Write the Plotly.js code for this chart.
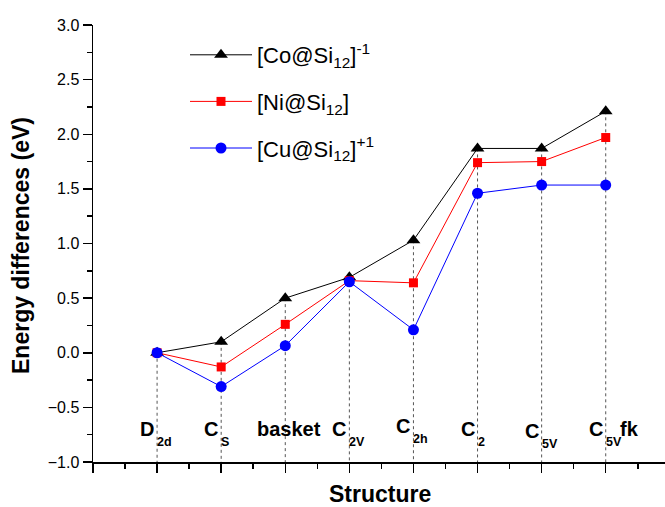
<!DOCTYPE html>
<html>
<head>
<meta charset="utf-8">
<script src="https://cdn.plot.ly/plotly-3.0.1.min.js"></script>
<style>html,body{margin:0;padding:0;background:#fff;}#chart{width:665px;height:507px;}</style>
</head>
<body>
<div id="chart"></div>
<script>
// ---- data ----
var categories = [1, 2, 3, 4, 5, 6, 7, 8];
var labelMain = ["D", "C", "basket", "C", "C", "C", "C", "C"];
var labelSub = ["2d", "S", "", "2V", "2h", "2", "5V", "5V"];
var labelSuffix = ["", "", "", "", "", "", "", "fk"];
var coValues = [0, 0.10, 0.50, 0.69, 1.03, 1.87, 1.87, 2.21];
var niValues = [0, -0.13, 0.26, 0.66, 0.64, 1.74, 1.75, 1.97];
var cuValues = [0, -0.31, 0.065, 0.65, 0.21, 1.46, 1.535, 1.535];
var seriesNames = ["[Co@Si<sub>12</sub>]<sup>-1</sup>", "[Ni@Si<sub>12</sub>]", "[Cu@Si<sub>12</sub>]<sup>+1</sup>"];

var FONT = "Arial, 'Liberation Sans', sans-serif";
var yMin = -1, yMax = 3;

// drop lines from the highest point of each category down to the axis
var dx = [], dy = [];
categories.forEach(function (c, i) {
  var top = Math.max(coValues[i], niValues[i], cuValues[i]);
  dx.push(c, c, null);
  dy.push(top, yMin, null);
});

var traces = [
  {x: dx, y: dy, mode: 'lines', line: {color: '#555', width: 1, dash: 'dot'}, showlegend: false, hoverinfo: 'skip'},
  {x: categories, y: coValues, name: seriesNames[0], mode: 'lines+markers', legendgroup: 'a',
   line: {color: '#000000', width: 1}, marker: {symbol: 'triangle-up', size: 12, color: '#000000'}},
  {x: categories, y: niValues, name: seriesNames[1], mode: 'lines+markers', legendgroup: 'b',
   line: {color: '#ff0000', width: 1}, marker: {symbol: 'square', size: 9, color: '#ff0000'}},
  {x: categories, y: cuValues, name: seriesNames[2], mode: 'lines+markers', legendgroup: 'c',
   line: {color: '#0000ff', width: 1}, marker: {symbol: 'circle', size: 11, color: '#0000ff'}}
];

// category labels drawn inside the plot: main text left of the drop line, subscript right of it
var yShifts = [0, 0, 0, 0, 3, 0, -2, 0];
var mainY = -0.70, subY = -0.815;
var annotations = [];
categories.forEach(function (c, i) {
  var hasSub = labelSub[i] !== "";
  annotations.push({x: c, y: mainY, xref: 'x', yref: 'y', text: labelMain[i], showarrow: false,
    xanchor: hasSub ? 'right' : 'center', yanchor: 'middle', xshift: hasSub ? -1 : 4, yshift: yShifts[i],
    font: {family: FONT, size: 20, color: '#000', weight: 'bold'}});
  if (hasSub) {
    annotations.push({x: c, y: subY, xref: 'x', yref: 'y', text: labelSub[i], showarrow: false,
      xanchor: 'left', yanchor: 'middle', xshift: -2, yshift: yShifts[i],
      font: {family: FONT, size: 12.5, color: '#000', weight: 'bold'}});
  }
  if (labelSuffix[i] !== "") {
    annotations.push({x: c, y: mainY, xref: 'x', yref: 'y', text: labelSuffix[i], showarrow: false,
      xanchor: 'left', yanchor: 'middle', xshift: 12, yshift: yShifts[i],
      font: {family: FONT, size: 20, color: '#000', weight: 'bold'}});
  }
});
annotations.push({xref: 'paper', yref: 'paper', x: (380 - 93) / 572, y: (462 - 494) / 437,
  text: '<b>Structure</b>', showarrow: false, xanchor: 'center', yanchor: 'middle',
  font: {family: FONT, size: 23, color: '#000'}});
annotations.push({xref: 'paper', yref: 'paper', x: (21 - 93) / 572, y: (462 - 246) / 437,
  text: '<b>Energy differences (eV)</b>', showarrow: false, textangle: -90, xanchor: 'center', yanchor: 'middle',
  font: {family: FONT, size: 23, color: '#000'}});

var layout = {
  width: 665, height: 507,
  margin: {l: 93, r: 0, t: 25, b: 45},
  paper_bgcolor: '#fff', plot_bgcolor: '#fff',
  font: {family: FONT, color: '#000'},
  showlegend: true,
  legend: {x: (185 - 93) / 572, y: (462 - 34) / 437, xanchor: 'left', yanchor: 'top', itemwidth: 62,
           font: {family: FONT, size: 22, color: '#000'}, bgcolor: 'rgba(0,0,0,0)', tracegroupgap: 15},
  xaxis: {range: [0, 8.925], showgrid: false, zeroline: false, showline: true, linecolor: '#000', linewidth: 1.5,
          ticks: 'outside', ticklen: 9, tickwidth: 1.5, tickcolor: '#000', dtick: 1, tick0: 0, showticklabels: false,
          minor: {dtick: 0.5, tick0: 0, ticks: 'outside', ticklen: 5, tickwidth: 1.5, tickcolor: '#000', showgrid: false}},
  yaxis: {range: [yMin, yMax], showgrid: false, zeroline: false, showline: true, linecolor: '#000', linewidth: 1.5,
          ticks: 'outside', ticklen: 9, tickwidth: 1.5, tickcolor: '#000', dtick: 0.5, tick0: 0, tickformat: '.1f',
          tickfont: {family: FONT, size: 16, color: '#000'},
          minor: {dtick: 0.25, tick0: 0, ticks: 'outside', ticklen: 5, tickwidth: 1.5, tickcolor: '#000', showgrid: false}},
  annotations: annotations
};

Plotly.newPlot('chart', traces, layout, {displayModeBar: false, staticPlot: true});
</script>
</body>
</html>
